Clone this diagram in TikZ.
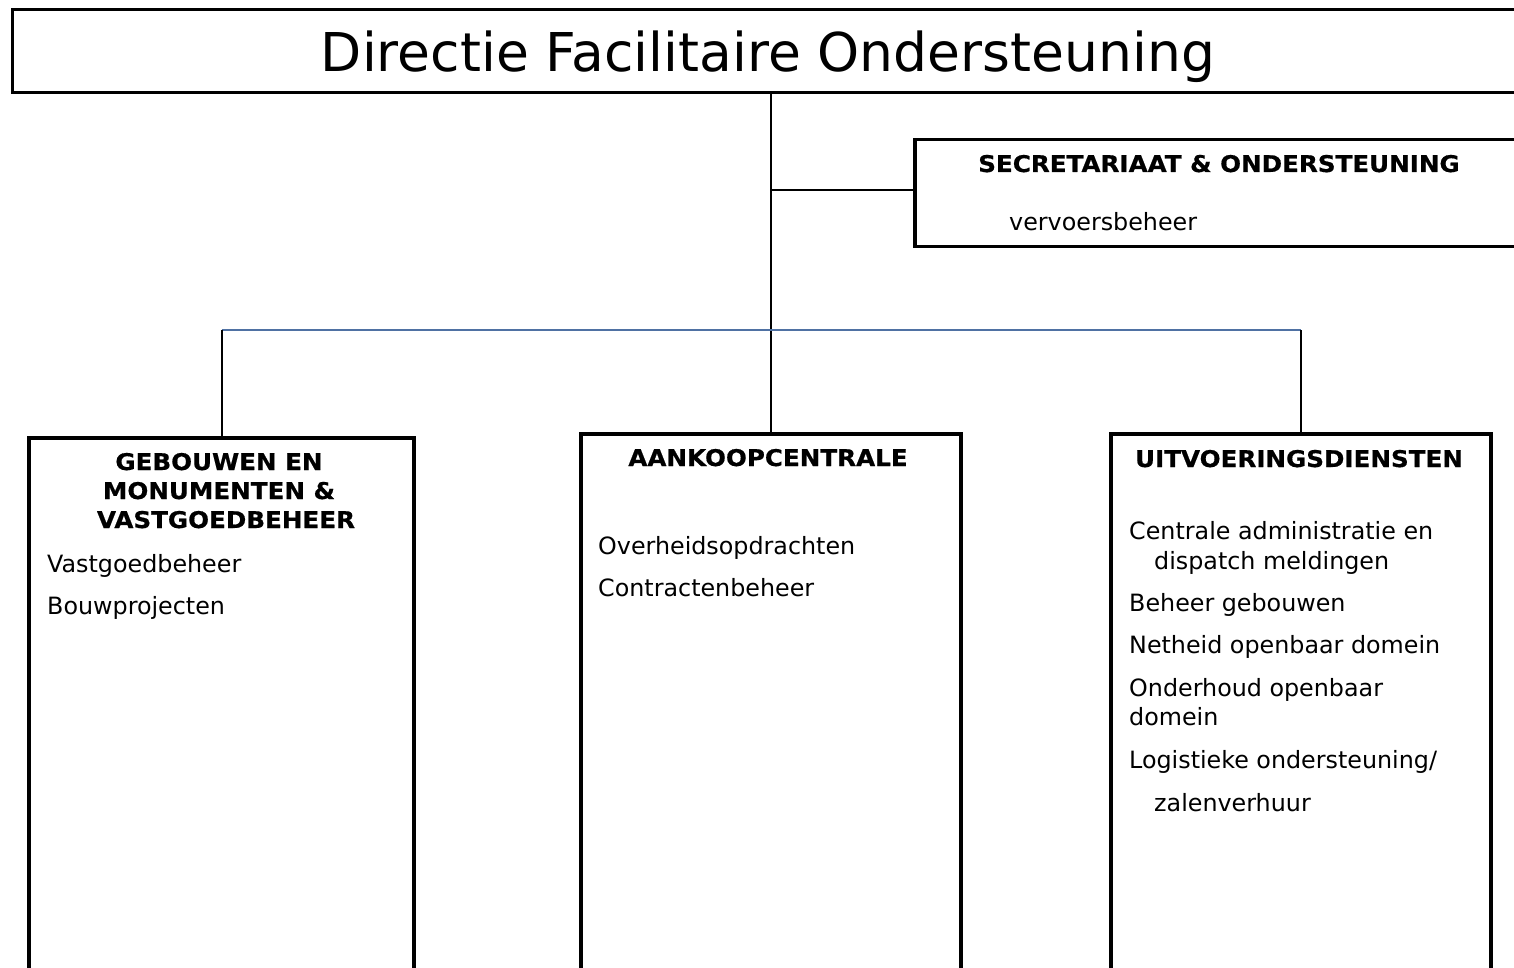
\documentclass[tikz,border=0pt]{standalone}
\usepackage{fontspec}
\setmainfont{DejaVu Sans}
\newfontfamily\hfont[FakeStretch=1.07,FakeBold=0.6]{DejaVu Sans}
\definecolor{busblue}{RGB}{79,113,163}
\tikzset{
  box/.style={draw=black, line width=3.5pt, rectangle, inner sep=0pt, anchor=north west},
  conn/.style={draw=black, line width=2pt},
  busline/.style={draw=busblue, line width=2pt},
  item/.style={anchor=base west, inner sep=0pt, font=\fontsize{23.8}{28}\selectfont},
  head/.style={anchor=base, inner sep=0pt, font=\hfont\fontsize{23}{26}\selectfont\bfseries},
  titletext/.style={anchor=base, inner sep=0pt, font=\fontsize{53.5}{60}\selectfont}
}
\begin{document}
\begin{tikzpicture}[x=1pt,y=-1pt]
\useasboundingbox (0,0) rectangle (1514,968);
\clip (0,0) rectangle (1514,968);
\fill[white] (0,0) rectangle (1514,968);
% boxes
\node[box, line width=3pt, minimum width=1514pt, minimum height=83pt] (title) at (11,8) {};
\node[box, minimum width=620pt, minimum height=107pt] (sec) at (913,138) {};
\node[box, line width=4pt, minimum width=385pt, minimum height=560pt] (left) at (27,436) {};
\node[box, line width=4pt, minimum width=380pt, minimum height=560pt] (mid) at (579,432) {};
\node[box, line width=4pt, minimum width=380pt, minimum height=560pt] (right) at (1109,432) {};
% connectors
\coordinate (j1) at (771,190);
\coordinate (bus) at (771,330);
\draw[conn] (title.south -| j1) -- (j1 |- mid.north);
\draw[conn] (j1) -- (sec.west |- j1);
\draw[busline] (left.north |- bus) -- (right.north |- bus);
\draw[conn] (left.north |- bus) -- (left.north);
\draw[conn] (right.north |- bus) -- (right.north);
% texts
\node[titletext] (t0) at (768,72) {Directie Facilitaire Ondersteuning};
\node[head] (h1) at (1219,172) {SECRETARIAAT \& ONDERSTEUNING};
\node[item] (s1) at (1009,231) {vervoersbeheer};
\node[head] (h2a) at (219,470) {GEBOUWEN EN};
\node[head] (h2b) at (219,499) {MONUMENTEN \&};
\node[head] (h2c) at (226,528) {VASTGOEDBEHEER};
\node[item] (l1) at (47,572) {Vastgoedbeheer};
\node[item] (l2) at (47,614) {Bouwprojecten};
\node[head] (h3) at (768,466) {AANKOOPCENTRALE};
\node[item] (m1) at (598,554) {Overheidsopdrachten};
\node[item] (m2) at (598,596) {Contractenbeheer};
\node[head] (h4) at (1299,467) {UITVOERINGSDIENSTEN};
\node[item] (r1) at (1129,539) {Centrale administratie en};
\node[item] (r1b) at (1154,569) {dispatch meldingen};
\node[item] (r2) at (1129,611) {Beheer gebouwen};
\node[item] (r3) at (1129,653) {Netheid openbaar domein};
\node[item] (r4) at (1129,696) {Onderhoud openbaar};
\node[item] (r4b) at (1129,725) {domein};
\node[item] (r5) at (1129,768) {Logistieke ondersteuning/};
\node[item] (r5b) at (1154,811) {zalenverhuur};
\end{tikzpicture}
\end{document}
